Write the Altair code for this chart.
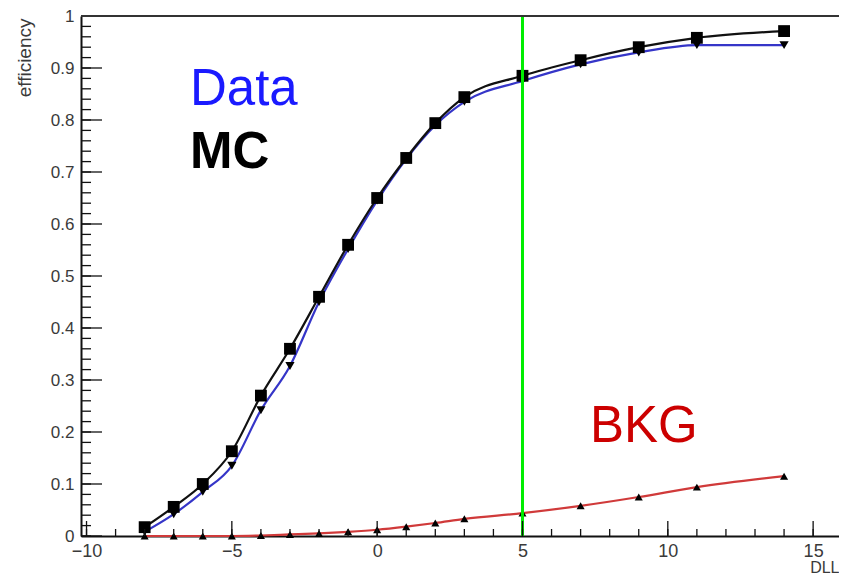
import altair as alt
import pandas as pd

# ---- data ----
x_sig = [-8, -7, -6, -5, -4, -3, -2, -1, 0, 1, 2, 3, 5, 7, 9, 11, 14]
mc_eff = [0.017, 0.056, 0.100, 0.163, 0.270, 0.360, 0.460, 0.560, 0.650, 0.727,
          0.794, 0.844, 0.885, 0.915, 0.940, 0.958, 0.971]
data_eff = [0.008, 0.042, 0.085, 0.135, 0.242, 0.327, 0.450, 0.552, 0.645, 0.725,
            0.790, 0.835, 0.875, 0.907, 0.930, 0.944, 0.944]
bkg_eff = [0.000, 0.000, 0.000, 0.000, 0.001, 0.003, 0.005, 0.008, 0.012, 0.018,
           0.025, 0.033, 0.044, 0.058, 0.075, 0.094, 0.115]

cut_value = [5]
x_major = [-10, -5, 0, 5, 10, 15]
x_minor = list(range(-10, 16))
y_major = [round(i * 0.1, 1) for i in range(11)]
y_minor = [round(i * 0.02, 2) for i in range(51)]

series_names = ["Data", "MC", "BKG"]
line_colors = ["#3535c8", "#111111", "#d03a3a"]
marker_shapes = ["triangle-down", "square", "triangle-up"]

rows = []
for name, vals in zip(series_names, [data_eff, mc_eff, bkg_eff]):
    for xv, yv in zip(x_sig, vals):
        rows.append({"series": name, "DLL": xv, "eff": yv})
df = pd.DataFrame(rows)

W, H = 758, 520
xscale = alt.Scale(domain=[-10.19, 15.89], nice=False, zero=False)
yscale = alt.Scale(domain=[0, 1], nice=False, zero=False)
FONT = "Liberation Sans"

xaxis = alt.Axis(values=x_major, format="d", ticks=False, grid=False,
                 domainColor="#111", domainWidth=2, labelFontSize=18,
                 labelColor="#3a3a3a", labelFont=FONT, labelPadding=6,
                 title="DLL", titleFont=FONT, titleFontSize=16,
                 titleFontWeight="normal", titleColor="#3a3a3a",
                 titleAnchor="end", titleX=W, titleY=36, titleAlign="right",
                 titleBaseline="alphabetic")
yaxis = alt.Axis(values=y_major, format=".1~f", ticks=False, grid=False,
                 domainColor="#111", domainWidth=2, labelFontSize=17,
                 labelColor="#3a3a3a", labelFont=FONT, labelPadding=7,
                 title="efficiency", titleFont=FONT, titleFontSize=19,
                 titleFontWeight="normal", titleColor="#3a3a3a",
                 titleAngle=270, titleAlign="right", titleBaseline="middle",
                 titleX=-57, titleY=2)

color = alt.Color("series:N", scale=alt.Scale(domain=series_names, range=line_colors), legend=None)
shape = alt.Shape("series:N", scale=alt.Scale(domain=series_names, range=marker_shapes), legend=None)

base = alt.Chart(df)
lines = base.mark_line(interpolate="monotone", strokeWidth=2.2).encode(
    x=alt.X("DLL:Q", scale=xscale, axis=xaxis),
    y=alt.Y("eff:Q", scale=yscale, axis=yaxis),
    color=color,
    detail="series:N",
)
pts_df = df.copy()
size_map = {"Data": 85, "MC": 140, "BKG": 65}
pts_df["sz"] = pts_df["series"].map(size_map)
points = alt.Chart(pts_df).mark_point(filled=True, opacity=1, color="black").encode(
    x=alt.X("DLL:Q", scale=xscale),
    y=alt.Y("eff:Q", scale=yscale),
    shape=shape,
    size=alt.Size("sz:Q", scale=None, legend=None),
)

top_frame = alt.Chart(pd.DataFrame({"v": [0]})).mark_rule(color="#333", strokeWidth=2).encode(
    x=alt.value(0), x2=alt.value(W), y=alt.value(0)
)

cut = alt.Chart(pd.DataFrame({"v": cut_value})).mark_rule(color="#00ee00", strokeWidth=3).encode(
    x=alt.X("v:Q", scale=xscale)
)

def xticks(vals, length):
    return alt.Chart(pd.DataFrame({"v": vals})).mark_rule(color="#111", strokeWidth=1.3).encode(
        x=alt.X("v:Q", scale=xscale), y=alt.value(H), y2=alt.value(H - length))

def yticks(vals, length):
    return alt.Chart(pd.DataFrame({"v": vals})).mark_rule(color="#111", strokeWidth=1.3).encode(
        y=alt.Y("v:Q", scale=yscale), x=alt.value(0), x2=alt.value(length))

labels_df = pd.DataFrame({
    "txt": ["Data", "MC", "BKG"],
    "x": [-6.44, -6.44, 7.32],
    "y": [0.829, 0.708, 0.181],
})

def label(i, color, weight):
    return alt.Chart(labels_df.iloc[[i]]).mark_text(
        align="left", baseline="alphabetic", font=FONT, fontSize=51,
        fontWeight=weight, color=color).encode(
        x=alt.X("x:Q", scale=xscale), y=alt.Y("y:Q", scale=yscale), text="txt:N")

chart = alt.layer(
    lines, points, cut,
    xticks(x_minor, 7), xticks(x_major, 15),
    yticks(y_minor, 10), yticks(y_major, 21),
    top_frame,
    label(0, "#1a1aff", "normal"), label(1, "#000000", "bold"), label(2, "#cc0000", "normal"),
).properties(
    width=W, height=H,
    autosize=alt.AutoSizeParams(type="none"),
    padding={"left": 73, "top": 8, "right": 0, "bottom": 38},
    background="white",
).configure_view(stroke=None)

chart.save("out.html", embed_options={"renderer": "svg", "actions": False})
